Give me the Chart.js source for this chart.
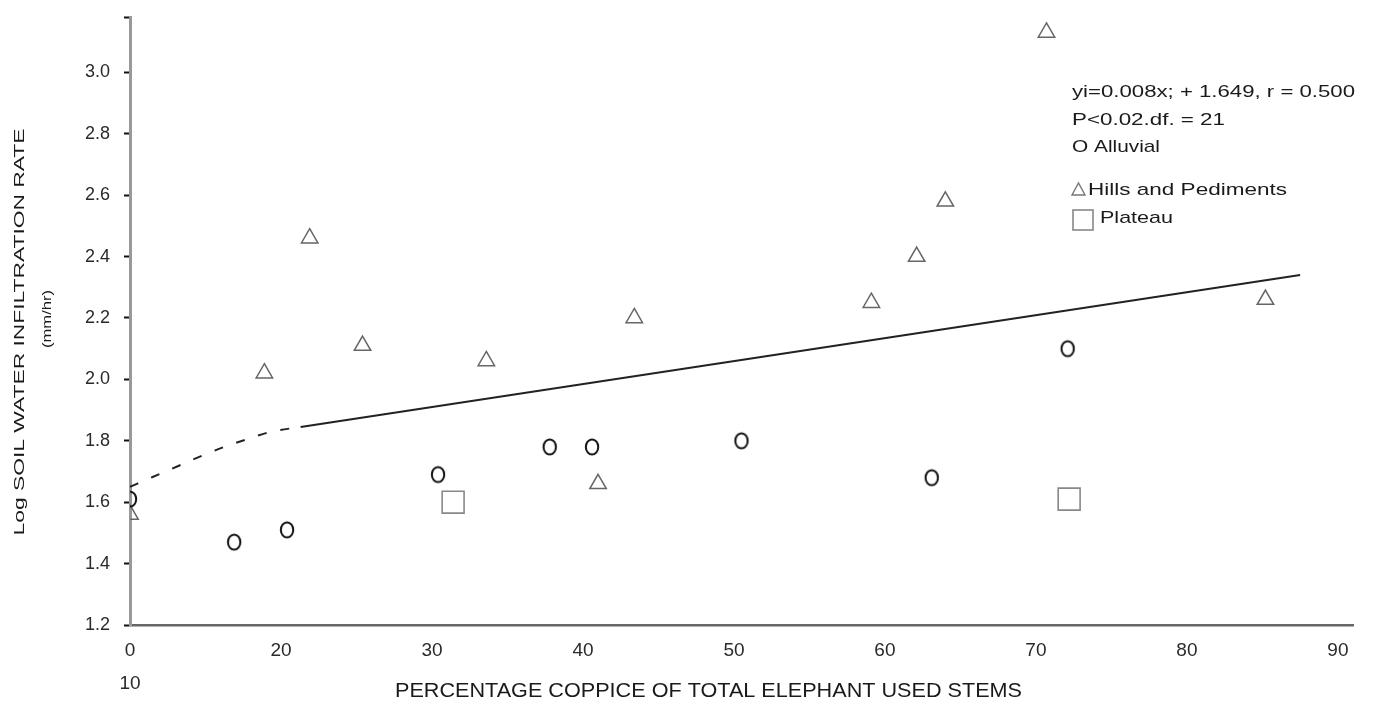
<!DOCTYPE html>
<html>
<head>
<meta charset="utf-8">
<script src="https://cdn.jsdelivr.net/npm/chart.js@4.4.1/dist/chart.umd.min.js"></script>
<style>
  html, body { margin: 0; padding: 0; background: #fff; }
  canvas { display: block; }
</style>
</head>
<body>
<canvas id="myChart" width="1374" height="704"></canvas>
<script>
// values
const alluvialX = [10.0, 16.9, 20.4, 30.4, 37.8, 40.6, 50.5, 63.1, 72.1];
const alluvialY = [1.61, 1.47, 1.51, 1.69, 1.78, 1.78, 1.80, 1.68, 2.10];

const hillsX = [10.0, 18.9, 21.9, 25.4, 33.6, 41.0, 43.4, 59.1, 62.1, 64.0, 70.7, 85.2];
const hillsY = [1.56, 2.02, 2.46, 2.11, 2.06, 1.66, 2.20, 2.25, 2.40, 2.58, 3.13, 2.26];

const plateauX = [31.4, 72.2];
const plateauY = [1.60, 1.61];

// regression line as drawn: dashed curve near the origin, then straight
const fitDashX = [10.0, 11.5, 13.2, 14.8, 16.4, 17.8, 19.3, 21.3];
const fitDashY = [1.650, 1.682, 1.718, 1.752, 1.783, 1.806, 1.829, 1.845];
const fitLineX = [21.3, 87.5];
const fitLineY = [1.845, 2.340];

const xTicks = [10, 20, 30, 40, 50, 60, 70, 80, 90];
const xTickText = [['0', '10'], '20', '30', '40', '50', '60', '70', '80', '90'];
const yTicks = [1.2, 1.4, 1.6, 1.8, 2.0, 2.2, 2.4, 2.6, 2.8, 3.0];
const yTop = 3.18;

const pts = (xs, ys) => xs.map((x, i) => ({ x: x, y: ys[i] }));

// "O" shaped marker
function ringImage() {
    const c = document.createElement('canvas');
    c.width = 18; c.height = 20;
    const g = c.getContext('2d');
    g.strokeStyle = '#111';
    g.lineWidth = 2;
    g.beginPath();
    g.ellipse(9, 10, 6.2, 7.6, 0, 0, Math.PI * 2);
    g.stroke();
    return c;
}

const font = 'Arial, "Liberation Sans", Helvetica, sans-serif';

// draw text squeezed / stretched to a given width
function fitText(ctx, text, cx, y, w) {
    const natural = ctx.measureText(text).width;
    ctx.save();
    ctx.translate(cx - w / 2, y);
    ctx.scale(w / natural, 1);
    ctx.textAlign = 'left';
    ctx.fillText(text, 0, 0);
    ctx.restore();
}

const annotations = {
    id: 'annotations',
    afterDraw(chart) {
        const ctx = chart.ctx;
        ctx.save();
        ctx.fillStyle = '#1a1a1a';
        ctx.textBaseline = 'alphabetic';

        // axis titles
        ctx.font = '21px ' + font;
        fitText(ctx, 'PERCENTAGE COPPICE OF TOTAL ELEPHANT USED STEMS', 708.5, 697, 627);

        ctx.save();
        ctx.translate(20, 332);
        ctx.rotate(-Math.PI / 2);
        ctx.textBaseline = 'middle';
        ctx.font = '15px ' + font;
        fitText(ctx, 'Log SOIL WATER INFILTRATION RATE', 0, 0, 407);
        ctx.restore();

        ctx.save();
        ctx.translate(47, 319);
        ctx.rotate(-Math.PI / 2);
        ctx.textBaseline = 'middle';
        ctx.font = '13px ' + font;
        fitText(ctx, '(mm/hr)', 0, 0, 58);
        ctx.restore();

        // key
        ctx.font = '17px ' + font;
        fitText(ctx, 'yi=0.008x; + 1.649, r = 0.500', 1072 + 283 / 2, 97, 283);
        fitText(ctx, 'P<0.02.df. = 21', 1072 + 153 / 2, 125, 153);
        fitText(ctx, 'O Alluvial', 1072 + 88 / 2, 152, 88);
        fitText(ctx, 'Hills and Pediments', 1088 + 199 / 2, 195, 199);
        fitText(ctx, 'Plateau', 1100 + 73 / 2, 223, 73);

        ctx.strokeStyle = '#777';
        ctx.lineWidth = 1.4;
        ctx.beginPath();
        ctx.moveTo(1072, 195);
        ctx.lineTo(1085, 195);
        ctx.lineTo(1078.5, 183);
        ctx.closePath();
        ctx.stroke();

        ctx.strokeStyle = '#888';
        ctx.lineWidth = 1.6;
        ctx.strokeRect(1073, 210, 20, 20);
        ctx.restore();
    }
};

const ctx = document.getElementById('myChart');
const myChart = new Chart(ctx, {
    type: 'scatter',
    data: {
        datasets: [
            {
                label: 'fit (dashed)',
                data: pts(fitDashX, fitDashY),
                showLine: true,
                borderColor: '#222',
                borderWidth: 2,
                borderDash: [9, 14],
                cubicInterpolationMode: 'monotone',
                pointRadius: 0
            },
            {
                label: 'fit',
                data: pts(fitLineX, fitLineY),
                showLine: true,
                borderColor: '#222',
                borderWidth: 2,
                pointRadius: 0
            },
            {
                label: 'Alluvial',
                data: pts(alluvialX, alluvialY),
                pointStyle: ringImage(),
                pointRadius: 8
            },
            {
                label: 'Hills and Pediments',
                data: pts(hillsX, hillsY),
                pointStyle: 'triangle',
                pointRadius: 9.5,
                borderColor: '#666',
                backgroundColor: 'rgba(0,0,0,0)',
                borderWidth: 1.5
            },
            {
                label: 'Plateau',
                data: pts(plateauX, plateauY),
                pointStyle: 'rect',
                pointRadius: 15.5,
                borderColor: '#888',
                backgroundColor: 'rgba(0,0,0,0)',
                borderWidth: 1.6
            }
        ]
    },
    options: {
        responsive: false,
        animation: false,
        devicePixelRatio: 1,
        layout: { padding: { top: 5, right: 21, left: 0, bottom: 0 } },
        plugins: {
            legend: { display: false },
            tooltip: { enabled: false }
        },
        scales: {
            x: {
                type: 'linear',
                min: 10,
                max: 91,
                afterBuildTicks: (scale) => {
                    scale.ticks = xTicks.map(v => ({ value: v }));
                },
                afterFit: (scale) => {
                    scale.height = 79;
                    scale.paddingLeft = 0;
                    scale.paddingRight = 0;
                },
                ticks: {
                    color: '#2a2a2a',
                    font: { size: 19, family: font, lineHeight: 1.75 },
                    padding: 9,
                    maxRotation: 0,
                    autoSkip: false,
                    callback: (v) => {
                        const i = xTicks.indexOf(v);
                        return i >= 0 ? xTickText[i] : '';
                    }
                },
                grid: { display: true, drawOnChartArea: false, drawTicks: false },
                border: { color: '#666', width: 2.5 }
            },
            y: {
                type: 'linear',
                min: 1.2,
                max: yTop,
                afterBuildTicks: (scale) => {
                    scale.ticks = yTicks.concat([yTop]).map(v => ({ value: v }));
                },
                afterFit: (scale) => {
                    scale.width = 130;
                    scale.paddingTop = 0;
                    scale.paddingBottom = 0;
                },
                ticks: {
                    color: '#2a2a2a',
                    font: { size: 18, family: font },
                    padding: 14,
                    autoSkip: false,
                    callback: (v) => {
                        const hit = yTicks.find(t => Math.abs(t - v) < 1e-6);
                        return hit !== undefined ? hit.toFixed(1) : '';
                    }
                },
                grid: { drawOnChartArea: false, drawTicks: true, tickLength: 6, color: '#111', tickWidth: 2 },
                border: { color: '#999', width: 3 }
            }
        }
    },
    plugins: [annotations]
});
</script>
</body>
</html>
